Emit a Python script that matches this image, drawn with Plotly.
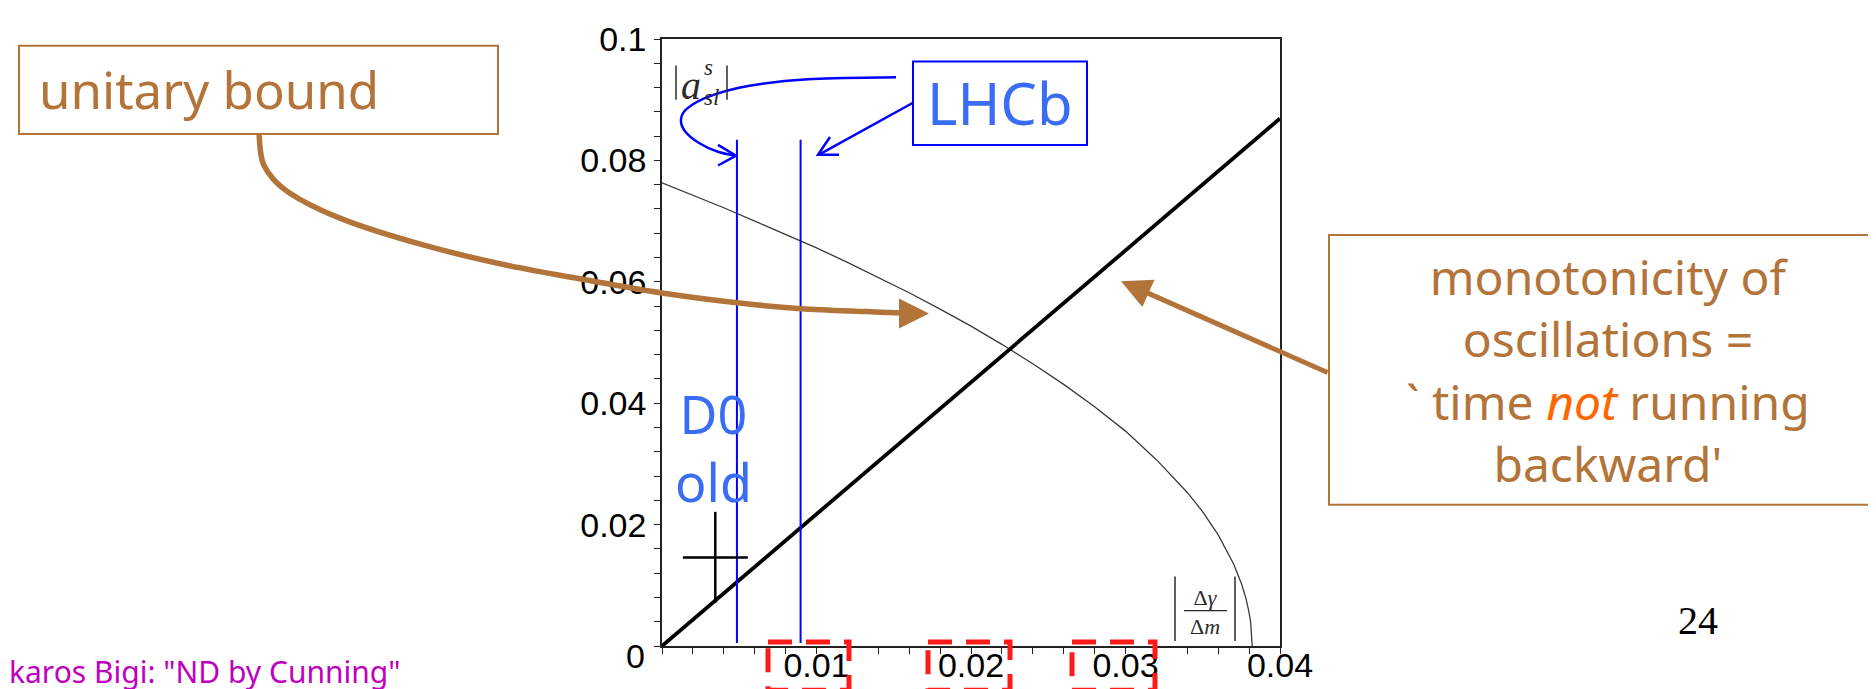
import plotly.graph_objects as go

# ---------------- data ----------------
x_range = [0.0, 0.04]
y_range = [0.0, 0.1]

# monotonicity line (thick black)
mono_x = [0.0, 0.04]
mono_y = [0.0, 0.0869]

# unitary bound curve (thin grey)
unit_x = [0.0, 0.002, 0.004, 0.006, 0.008, 0.010, 0.012, 0.014, 0.016, 0.018,
          0.020, 0.022, 0.024, 0.026, 0.028, 0.030, 0.032, 0.034, 0.035, 0.036,
          0.037, 0.0375, 0.0378, 0.038, 0.0381, 0.0382]
unit_y = [0.0763, 0.0743, 0.0722, 0.0700, 0.0678, 0.0656, 0.0632, 0.0607, 0.0582, 0.0555,
          0.0527, 0.0497, 0.0465, 0.0431, 0.0394, 0.0354, 0.0307, 0.0253, 0.0221, 0.0183,
          0.0135, 0.0103, 0.0078, 0.0055, 0.0039, 0.0]

# LHCb vertical lines
lhcb_x = [0.00485, 0.00897]
lhcb_ylo = 0.0005
lhcb_yhi = 0.0834

# D0 old point with errors
d0_x = [0.00345]
d0_y = [0.0146]
d0_ex = [0.0021]
d0_ey = [0.0075]

x_tick_vals = [0.01, 0.02, 0.03, 0.04]
x_tick_text = ["0.01", "0.02", "0.03", "0.04"]
y_tick_vals = [0.02, 0.04, 0.06, 0.08, 0.1]
y_tick_text = ["0.02", "0.04", "0.06", "0.08", "0.1"]

# ---------------- layout geometry (pixels) ----------------
W_PX, H_PX = 1876, 689
L, R, T, B = 654, 1272, 19, 638


def px(x, y):
    return ((x - L) / (R - L), (B - y) / (B - T))


def smooth_path(pts):
    """Catmull-Rom -> cubic Bezier SVG path in paper coords."""
    P = [px(*p) for p in pts]
    d = "M %.5f,%.5f" % P[0]
    for i in range(len(P) - 1):
        p0 = P[i - 1] if i > 0 else P[i]
        p1 = P[i]
        p2 = P[i + 1]
        p3 = P[i + 2] if i + 2 < len(P) else P[i + 1]
        c1 = (p1[0] + (p2[0] - p0[0]) / 6, p1[1] + (p2[1] - p0[1]) / 6)
        c2 = (p2[0] - (p3[0] - p1[0]) / 6, p2[1] - (p3[1] - p1[1]) / 6)
        d += " C %.5f,%.5f %.5f,%.5f %.5f,%.5f" % (c1 + c2 + p2)
    return d


def poly_path(pts):
    P = [px(*p) for p in pts]
    return "M " + " L ".join("%.5f,%.5f" % p for p in P)


BROWN = "#b3743a"
BLUE = "#0000ff"
LBLUE = "#3a6cf5"
TEXTFONT = "Noto Sans"
INK = "#2a2a2a"

fig = go.Figure()

fig.add_trace(go.Scatter(x=unit_x, y=unit_y, mode="lines",
                         line=dict(color="#3a3a3a", width=1.3), hoverinfo="skip"))
fig.add_trace(go.Scatter(x=mono_x, y=mono_y, mode="lines",
                         line=dict(color="black", width=3.8), hoverinfo="skip"))
for xv in lhcb_x:
    fig.add_trace(go.Scatter(x=[xv, xv], y=[lhcb_ylo, lhcb_yhi], mode="lines",
                             line=dict(color=BLUE, width=2), hoverinfo="skip"))
fig.add_trace(go.Scatter(x=d0_x, y=d0_y, mode="markers",
                         marker=dict(size=1, color="rgba(0,0,0,0)"),
                         error_x=dict(type="data", array=d0_ex, color="black", thickness=2.5, width=0),
                         error_y=dict(type="data", array=d0_ey, color="black", thickness=2.5, width=0),
                         hoverinfo="skip"))

shapes = []
# boxes
x0, y0 = px(11, 26); x1, y1 = px(490, 116)
shapes.append(dict(type="rect", xref="paper", yref="paper", x0=x0, y0=y0, x1=x1, y1=y1,
                   line=dict(color=BROWN, width=2)))
x0, y0 = px(1321, 219); x1, y1 = px(1885, 494)
shapes.append(dict(type="rect", xref="paper", yref="paper", x0=x0, y0=y0, x1=x1, y1=y1,
                   line=dict(color=BROWN, width=2)))
x0, y0 = px(905, 42); x1, y1 = px(1079, 127)
shapes.append(dict(type="rect", xref="paper", yref="paper", x0=x0, y0=y0, x1=x1, y1=y1,
                   line=dict(color=BLUE, width=2)))
# red dashed boxes around tick labels
for (a, b) in [(760, 841), (920, 1002), (1064, 1147)]:
    x0, y0 = px(a, 634); x1, y1 = px(b, 683)
    shapes.append(dict(type="rect", xref="paper", yref="paper", x0=x0, y0=y0, x1=x1, y1=y1,
                       line=dict(color="#ff1a1a", width=5, dash="24px,14px")))
# brown curved arrow shaft
brown_pts = [(251, 116), (256, 148), (280, 175), (335, 203), (415, 229), (500, 250),
             (580, 265), (654, 278), (729, 288), (793, 294), (860, 297), (908, 299)]
shapes.append(dict(type="path", xref="paper", yref="paper", path=smooth_path(brown_pts),
                   line=dict(color=BROWN, width=5.5)))
# blue curved arrow
blue_pts = [(888, 58), (800, 60), (740, 67), (700, 78), (679, 90), (673, 101),
            (677, 113), (691, 125), (710, 134), (728, 138)]
shapes.append(dict(type="path", xref="paper", yref="paper", path=smooth_path(blue_pts),
                   line=dict(color=BLUE, width=2.5)))
shapes.append(dict(type="path", xref="paper", yref="paper",
                   path=poly_path([(710, 127), (728, 138), (710, 148)]),
                   line=dict(color=BLUE, width=2.5)))
# blue straight arrow
shapes.append(dict(type="path", xref="paper", yref="paper",
                   path=poly_path([(905, 84), (811, 137)]),
                   line=dict(color=BLUE, width=2.5)))
shapes.append(dict(type="path", xref="paper", yref="paper",
                   path=poly_path([(822, 119), (810, 137), (831, 137)]),
                   line=dict(color=BLUE, width=2.5)))
# absolute-value bars of axis labels
for (xx, ya, yb) in [(668, 46, 81), (719, 46, 81), (1167, 567, 633), (1227, 567, 633)]:
    shapes.append(dict(type="path", xref="paper", yref="paper",
                       path=poly_path([(xx, ya), (xx, yb)]),
                       line=dict(color=INK, width=1.5)))
# fraction bar
shapes.append(dict(type="path", xref="paper", yref="paper",
                   path=poly_path([(1176, 602), (1219, 602)]),
                   line=dict(color=INK, width=1.3)))

ann = []


def text(xp, yp, s, size, color, family=TEXTFONT, xanchor="center", yanchor="middle", align="center"):
    xx, yy = px(xp, yp)
    ann.append(dict(x=xx, y=yy, xref="paper", yref="paper", text=s, showarrow=False,
                    xanchor=xanchor, yanchor=yanchor, align=align, borderpad=0,
                    font=dict(size=size, color=color, family=family)))


text(30, 70, "unitary bound", 51, BROWN, xanchor="left")
text(1600, 357, "monotonicity of<br>oscillations =<br>` time <i><span style='color:#ff6600'>not</span></i> running<br>backward'",
     48, BROWN)
text(992, 84, "LHCb", 58, LBLUE)
text(705, 436, "D0<br>old", 52, LBLUE)
text(1690, 612, "24", 40, "black", family="Liberation Serif")
text(0, 664, "karos Bigi: \"ND by Cunning\"", 30, "#c000c0", xanchor="left")
text(627, 648, "0", 34, "black", family="Liberation Sans")
# |a_sl^s|
text(694, 66, "<i>a</i>", 40, INK, family="Liberation Serif", xanchor="right")
text(695, 63, "<i>s</i><br><i>sl</i>", 23, INK, family="Liberation Serif", xanchor="left", align="left")
# |Δγ/Δm|
text(1197, 603, "Δ<i>γ</i><br>Δ<i>m</i>", 22, INK, family="Liberation Serif")

# arrowheads (annotations with arrows)
tx, ty = px(921, 299)
ann.append(dict(x=tx, y=ty, xref="paper", yref="paper", text="", showarrow=True,
                ax=-16, ay=0, arrowhead=2, arrowsize=1.2, arrowwidth=5, arrowcolor=BROWN, standoff=0))
tx, ty = px(1113, 266)
ann.append(dict(x=tx, y=ty, xref="paper", yref="paper", text="", showarrow=True,
                ax=208, ay=92, arrowhead=2, arrowsize=1.2, arrowwidth=5, arrowcolor=BROWN, standoff=0))

axis_common = dict(showgrid=False, zeroline=False, showline=True, linecolor="#222",
                   linewidth=1.5, mirror=True, ticks="outside", ticklen=6, tickwidth=1.2,
                   tickcolor="#222", ticklabeloverflow="allow",
                   tickfont=dict(family="Liberation Sans", size=34, color="black"))

fig.update_layout(
    width=W_PX, height=H_PX,
    margin=dict(l=L, r=W_PX - R, t=T, b=H_PX - B, pad=0),
    paper_bgcolor="white", plot_bgcolor="white",
    showlegend=False,
    shapes=shapes, annotations=ann,
    xaxis=dict(range=x_range, tickmode="array", tickvals=x_tick_vals, ticktext=x_tick_text,
               ticklabelstandoff=-18,
               minor=dict(dtick=0.002, tick0=0, ticks="outside", ticklen=6, tickcolor="#222", tickwidth=1.2),
               **axis_common),
    yaxis=dict(range=y_range, tickmode="array", tickvals=y_tick_vals, ticktext=y_tick_text,
               ticklabelstandoff=1,
               minor=dict(dtick=0.004, tick0=0, ticks="outside", ticklen=6, tickcolor="#222", tickwidth=1.2),
               **axis_common),
)

fig.write_html("out.html")
